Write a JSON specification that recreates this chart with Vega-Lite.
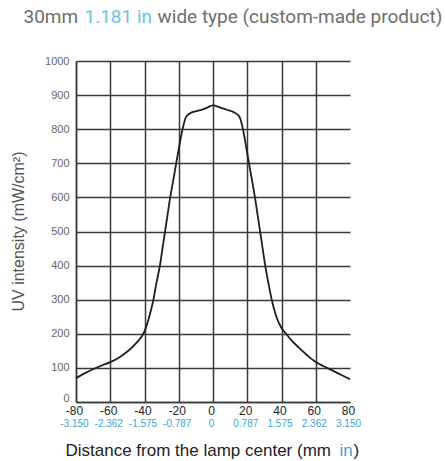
{
  "$schema": "https://vega.github.io/schema/vega-lite/v6.json",
  "autosize": "none",
  "width": 274,
  "height": 341,
  "padding": {"left": 76, "top": 61, "right": 95, "bottom": 59},
  "background": "white",
  "config": {"view": {"stroke": null}, "font": "Liberation Sans"},
  "data": {"values": [
    {"mm": -80, "uv": 70}, {"mm": -75, "uv": 84}, {"mm": -70, "uv": 96}, {"mm": -65, "uv": 107},
    {"mm": -60, "uv": 117}, {"mm": -55, "uv": 130}, {"mm": -50, "uv": 148}, {"mm": -45, "uv": 172},
    {"mm": -40, "uv": 207}, {"mm": -37.5, "uv": 245}, {"mm": -35, "uv": 295}, {"mm": -33, "uv": 350},
    {"mm": -31, "uv": 400}, {"mm": -29.5, "uv": 450}, {"mm": -28, "uv": 500}, {"mm": -26.5, "uv": 550},
    {"mm": -25, "uv": 600}, {"mm": -23.2, "uv": 650}, {"mm": -21.5, "uv": 700}, {"mm": -19.7, "uv": 750},
    {"mm": -17.8, "uv": 800}, {"mm": -15.5, "uv": 838}, {"mm": -12, "uv": 850}, {"mm": -8, "uv": 855},
    {"mm": -4, "uv": 862}, {"mm": 0, "uv": 870}, {"mm": 4, "uv": 864}, {"mm": 8, "uv": 857},
    {"mm": 12, "uv": 850}, {"mm": 15.3, "uv": 838}, {"mm": 17.5, "uv": 800}, {"mm": 19.3, "uv": 750},
    {"mm": 21, "uv": 700}, {"mm": 22.8, "uv": 650}, {"mm": 24.5, "uv": 600}, {"mm": 26, "uv": 550},
    {"mm": 27.5, "uv": 500}, {"mm": 29, "uv": 450}, {"mm": 30.5, "uv": 400}, {"mm": 32.3, "uv": 350},
    {"mm": 34.3, "uv": 300}, {"mm": 37, "uv": 250}, {"mm": 40, "uv": 217}, {"mm": 43, "uv": 198},
    {"mm": 46, "uv": 180}, {"mm": 50, "uv": 160}, {"mm": 55, "uv": 137}, {"mm": 60, "uv": 117},
    {"mm": 65, "uv": 104}, {"mm": 70, "uv": 92}, {"mm": 75, "uv": 79}, {"mm": 80, "uv": 67}
  ]},
  "resolve": {"axis": {"x": "independent", "y": "independent"}},
  "layer": [
    {
      "mark": {"type": "line", "interpolate": "monotone", "color": "#1e1e1e", "strokeWidth": 1.8},
      "encoding": {
        "x": {"field": "mm", "type": "quantitative", "scale": {"domain": [-80, 80], "nice": false, "zero": false},
          "axis": {"orient": "bottom", "values": [-80, -60, -40, -20, 0, 20, 40, 60, 80], "grid": true,
            "gridColor": "#3a3a3a", "gridWidth": 1.5,
            "gridOpacity": {"condition": {"test": "datum.value === 80", "value": 0}, "value": 1},
            "domain": true, "domainColor": "#3a3a3a", "domainWidth": 1.5, "ticks": false,
            "labelExpr": "'' + datum.value",
            "labelFontSize": 12, "labelColor": "#222", "labelPadding": 3, "labelOverlap": false, "labelBound": false, "labelFlush": false, "labelOffset": -2,
            "title": "Distance from the lamp center (mm", "titleFontSize": 17, "titleFontWeight": "normal", "titleColor": "#222",
            "titleX": -11, "titleY": 53, "titleAnchor": "start", "titleAlign": "left", "titleBaseline": "alphabetic"}},
        "y": {"field": "uv", "type": "quantitative", "scale": {"domain": [0, 1000], "nice": false},
          "axis": {"orient": "left", "values": [0, 100, 200, 300, 400, 500, 600, 700, 800, 900, 1000], "grid": true,
            "gridColor": "#3a3a3a", "gridWidth": 1.5, "domain": true, "domainColor": "#3a3a3a", "domainWidth": 1.5,
            "ticks": false, "labelExpr": "'' + datum.value", "labelFontSize": 11, "labelColor": "#666", "labelPadding": 7, "labelOverlap": false, "labelBound": false, "labelFlush": false,
            "labelOffset": {"condition": {"test": "datum.value === 0", "value": -4}, "value": 0},
            "title": "UV intensity (mW/cm²)", "titleFontSize": 16, "titleFontWeight": "normal", "titleColor": "#555",
            "titleX": -58, "titleY": 170, "titleAngle": -90, "titleAlign": "center", "titleBaseline": "middle"}}
      }
    },
    {
      "mark": {"type": "line", "opacity": 0},
      "encoding": {
        "x": {"field": "mm", "type": "quantitative", "scale": {"domain": [-80, 80], "nice": false, "zero": false},
          "axis": {"orient": "bottom", "values": [-80, -60, -40, -20, 0, 20, 40, 60, 80], "grid": false, "domain": false, "ticks": false,
            "labelExpr": "datum.value === 0 ? '0' : (datum.value < 0 ? '-' : '') + format(abs(datum.value) / 25.4, '.3f')",
            "labelFontSize": 10, "labelColor": "#3aa6dc", "labelPadding": 16, "labelOverlap": false, "labelBound": false, "labelFlush": false, "labelOffset": -2,
            "title": "in", "titleFontSize": 17, "titleFontWeight": "normal", "titleColor": "#3aa6dc",
            "titleX": 263, "titleY": 53, "titleAnchor": "start", "titleAlign": "left", "titleBaseline": "alphabetic"}},
        "y": {"field": "uv", "type": "quantitative", "axis": null}
      }
    },
    {
      "mark": {"type": "line", "opacity": 0},
      "encoding": {
        "x": {"field": "mm", "type": "quantitative", "scale": {"domain": [-80, 80], "nice": false, "zero": false},
          "axis": {"orient": "bottom", "labels": false, "grid": false, "domain": false, "ticks": false,
            "title": ")", "titleFontSize": 17, "titleFontWeight": "normal", "titleColor": "#222",
            "titleX": 277, "titleY": 53, "titleAnchor": "start", "titleAlign": "left", "titleBaseline": "alphabetic"}},
        "y": {"field": "uv", "type": "quantitative", "axis": null}
      }
    },
    {
      "mark": {"type": "line", "opacity": 0},
      "encoding": {
        "x": {"field": "mm", "type": "quantitative", "scale": {"domain": [-80, 80], "nice": false, "zero": false},
          "axis": {"orient": "top", "labels": false, "grid": false, "domain": false, "ticks": false,
            "title": "30mm", "titleFont": "Roboto", "titleFontSize": 19, "titleFontWeight": "normal", "titleColor": "#6e6e6e",
            "titleX": -53, "titleY": -39, "titleAnchor": "start", "titleAlign": "left", "titleBaseline": "alphabetic"}},
        "y": {"field": "uv", "type": "quantitative", "axis": null}
      }
    },
    {
      "mark": {"type": "line", "opacity": 0},
      "encoding": {
        "x": {"field": "mm", "type": "quantitative", "scale": {"domain": [-80, 80], "nice": false, "zero": false},
          "axis": {"orient": "top", "labels": false, "grid": false, "domain": false, "ticks": false,
            "title": "1.181 in", "titleFont": "Roboto", "titleFontSize": 19, "titleFontWeight": "normal", "titleColor": "#6cc3e6",
            "titleX": 8, "titleY": -39, "titleAnchor": "start", "titleAlign": "left", "titleBaseline": "alphabetic"}},
        "y": {"field": "uv", "type": "quantitative", "axis": null}
      }
    },
    {
      "mark": {"type": "line", "opacity": 0},
      "encoding": {
        "x": {"field": "mm", "type": "quantitative", "scale": {"domain": [-80, 80], "nice": false, "zero": false},
          "axis": {"orient": "top", "labels": false, "grid": false, "domain": false, "ticks": false,
            "title": "wide type (custom-made product)", "titleFont": "Roboto", "titleFontSize": 19, "titleFontWeight": "normal", "titleColor": "#6e6e6e",
            "titleX": 81, "titleY": -39, "titleAnchor": "start", "titleAlign": "left", "titleBaseline": "alphabetic"}},
        "y": {"field": "uv", "type": "quantitative", "axis": null}
      }
    }
  ]
}
